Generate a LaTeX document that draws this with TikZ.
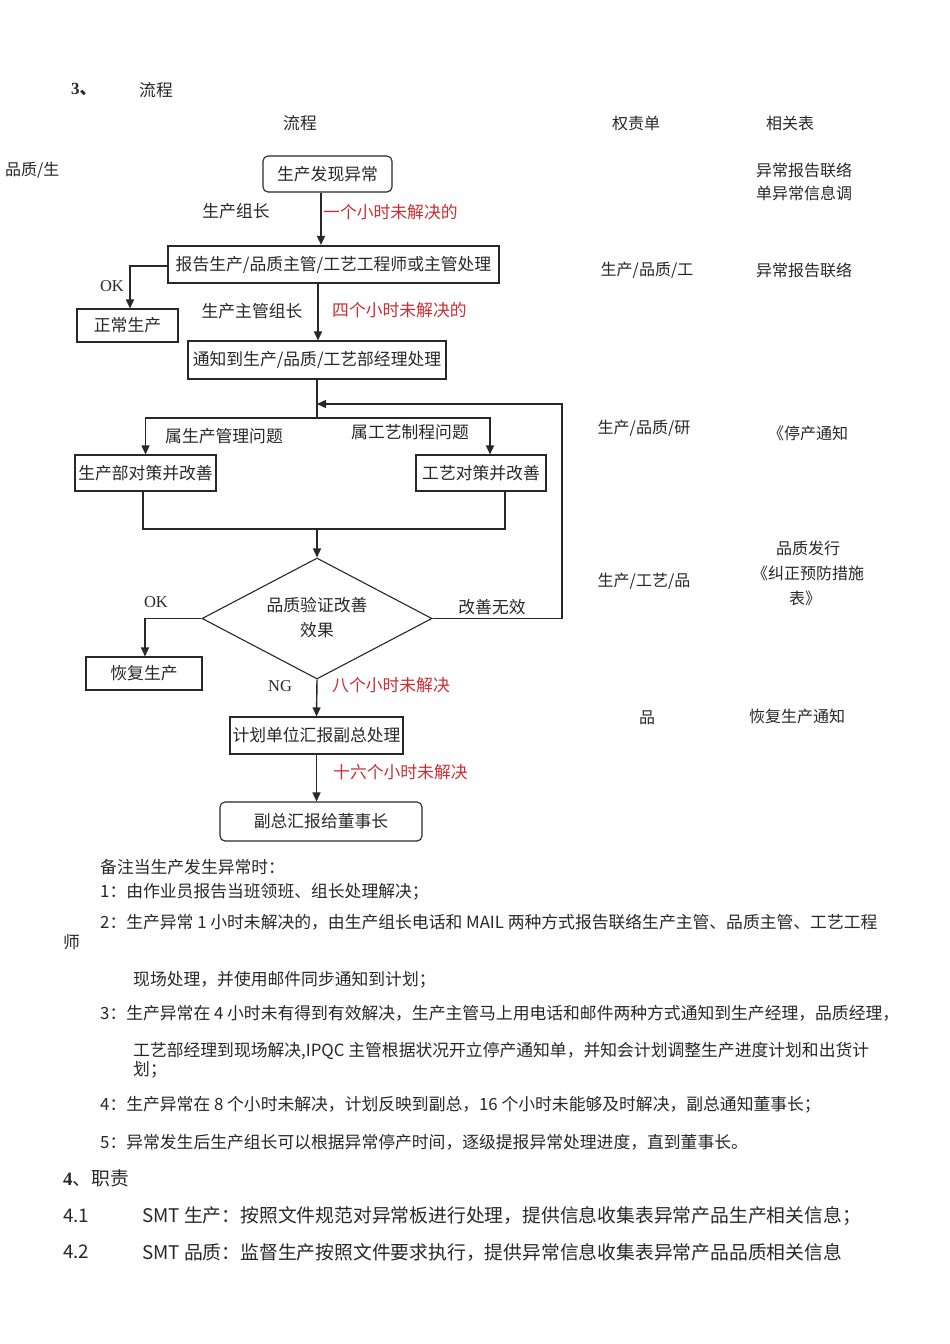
\documentclass[tikz,border=0pt]{standalone}
\usepackage{fontspec}
\setmainfont{Liberation Serif}
\newfontfamily\cjk{Noto Sans CJK SC}
\usetikzlibrary{arrows.meta,shapes.geometric}
\definecolor{ink}{RGB}{40,40,40}
\definecolor{redt}{RGB}{205,45,50}
\tikzset{
  box/.style={draw=ink,line width=1.1pt,inner sep=0pt,font=\cjk\fontsize{16.8}{18}\selectfont,text=ink},
  rbox/.style={box,rounded corners=5pt},
  arr/.style={draw=ink,line width=1.4pt,-{Triangle[length=9pt,width=8pt]}},
  ln/.style={draw=ink,line width=1.1pt},
  lab/.style={inner sep=0pt,font=\cjk\fontsize{16.8}{18}\selectfont,text=ink},
  redlab/.style={lab,text=redt},
  latin/.style={inner sep=0pt,font=\fontsize{16.5}{18}\selectfont,text=ink},
  side/.style={inner sep=0pt,font=\cjk\fontsize{16}{17}\selectfont,text=ink},
  note/.style={inner sep=0pt,anchor=west,font=\cjk\fontsize{16.8}{18}\selectfont,text=ink},
  duty/.style={inner sep=0pt,anchor=west,font=\cjk\fontsize{18.8}{20}\selectfont,text=ink}
}
\begin{document}
\begin{tikzpicture}[x=1pt,y=-1pt]
\useasboundingbox[fill=white] (0,0) rectangle (950,1344);
% headers
\node[latin,anchor=west,font=\bfseries\fontsize{17}{18}\selectfont] (h3) at (71,90) {3\cjk 、};
\node[lab,anchor=west] (h3t) at (139,90) {流程};
\node[lab] (hflow) at (300,123) {流程};
\node[side] (hqz) at (636,123) {权责单};
\node[side] (hxg) at (790,123) {相关表};
\node[side,anchor=west] (lq) at (5,170) {品质/生};
% right column
\node[side] (r1a) at (804,170) {异常报告联络};
\node[side] (r1b) at (804,193) {单异常信息调};
\node[side] (m2) at (647,270) {生产/品质/工};
\node[side] (r2) at (804,270) {异常报告联络};
\node[side] (m3) at (644,428) {生产/品质/研};
\node[side] (r3) at (808,433) {《停产通知};
\node[side] (r4a) at (808,548) {品质发行};
\node[side] (r4b) at (808,573) {《纠正预防措施};
\node[side] (r4c) at (805,598) {表》};
\node[side] (m4) at (644,581) {生产/工艺/品};
\node[side] (m5) at (647,718) {品};
\node[side] (r5) at (797,716) {恢复生产通知};
% flow nodes
\node[rbox,minimum width=129pt,minimum height=36pt] (A) at (327.5,174) {生产发现异常};
\node[box,line width=2.2pt,minimum width=331pt,minimum height=37pt] (B) at (333.5,264.5) {报告生产/品质主管/工艺工程师或主管处理};
\node[box,minimum width=101pt,minimum height=33pt] (C) at (127.5,325.5) {正常生产};
\node[box,minimum width=258pt,minimum height=38pt] (D) at (317,360) {通知到生产/品质/工艺部经理处理};
\node[box,minimum width=141pt,minimum height=36pt] (E) at (145.5,473) {生产部对策并改善};
\node[box,minimum width=130pt,minimum height=36pt] (F) at (481,473) {工艺对策并改善};
\node[box,diamond,aspect=1.9,minimum width=230pt,minimum height=121pt] (G) at (317,618.5) {};
\node[lab] (Gt1) at (317,605) {品质验证改善};
\node[lab] (Gt2) at (317,630) {效果};
\node[box,minimum width=116pt,minimum height=33pt] (H) at (144,673.5) {恢复生产};
\node[box,minimum width=173pt,minimum height=37pt] (I) at (316.5,735.5) {计划单位汇报副总处理};
\node[rbox,minimum width=202pt,minimum height=39pt] (J) at (321,821.5) {副总汇报给董事长};
% coordinates
\coordinate (j1) at (317,418);
\coordinate (j2) at (317,529);
\coordinate (rt) at (562,404);
% connectors
\draw[arr] ([xshift=-6.5pt]A.south) -- ([xshift=-6.5pt]A.south |- B.north);
\draw[arr] ([yshift=-1.5pt]B.west) -| ([xshift=2.5pt]C.north);
\draw[arr] ([xshift=-15.5pt]B.south) -- ([xshift=-15.5pt]B.south |- D.north);
\draw[ln] (D.south) -- (j1);
\draw[arr] (j1) -| (E.north);
\draw[arr] (j1) -| ([xshift=9pt]F.north);
\draw[ln] ([xshift=-2.5pt]E.south) |- (j2) -| ([xshift=24pt]F.south);
\draw[arr] (j2) -- (G.north);
\draw[arr] (G.west) -| ([xshift=1pt]H.north);
\draw[arr] (G.east) -| (rt) -- (rt -| D.south);
\draw[arr] (G.south) -- (I.north);
\draw[arr] (I.south) -- (I.south |- J.north);
% connector labels
\node[lab] (l1) at (236,211) {生产组长};
\node[redlab,anchor=west] (l2) at (323,212) {一个小时未解决的};
\node[latin] (ok1) at (112,286) {OK};
\node[lab] (l3) at (252,311) {生产主管组长};
\node[redlab,anchor=west] (l4) at (332,310) {四个小时未解决的};
\node[lab] (l5) at (224,436) {属生产管理问题};
\node[lab] (l6) at (410,432) {属工艺制程问题};
\node[latin] (ok2) at (156,602) {OK};
\node[lab] (l7) at (492,607) {改善无效};
\node[latin] (ng) at (280,686) {NG};
\node[redlab,anchor=west] (l8) at (332,685) {八个小时未解决};
\node[redlab,anchor=west] (l9) at (333,772) {十六个小时未解决};
% notes
\node[note] (n0) at (100,867) {备注当生产发生异常时：};
\node[note] (n1) at (100,892) {1：由作业员报告当班领班、组长处理解决；};
\node[note] (n2) at (100,922) {2：生产异常 1 小时未解决的，由生产组长电话和 MAIL 两种方式报告联络生产主管、品质主管、工艺工程};
\node[note] (n2b) at (63,942) {师};
\node[note] (n2c) at (133,980) {现场处理，并使用邮件同步通知到计划；};
\node[note] (n3) at (100,1013) {3：生产异常在 4 小时未有得到有效解决，生产主管马上用电话和邮件两种方式通知到生产经理，品质经理，};
\node[note] (n3b) at (133,1051) {工艺部经理到现场解决,IPQC 主管根据状况开立停产通知单，并知会计划调整生产进度计划和出货计};
\node[note] (n3c) at (133,1070) {划；};
\node[note] (n4) at (100,1105) {4：生产异常在 8 个小时未解决，计划反映到副总，16 个小时未能够及时解决，副总通知董事长；};
\node[note] (n5) at (100,1142) {5：异常发生后生产组长可以根据异常停产时间，逐级提报异常处理进度，直到董事长。};
\node[duty] (d0) at (63,1178) {{\rmfamily\bfseries 4}、职责};
\node[duty] (d1n) at (63,1216) {4.1};
\node[duty] (d1) at (142,1216) {SMT 生产：按照文件规范对异常板进行处理，提供信息收集表异常产品生产相关信息；};
\node[duty] (d2n) at (63,1252) {4.2};
\node[duty] (d2) at (142,1252) {SMT 品质：监督生产按照文件要求执行，提供异常信息收集表异常产品品质相关信息};
\end{tikzpicture}
\end{document}
